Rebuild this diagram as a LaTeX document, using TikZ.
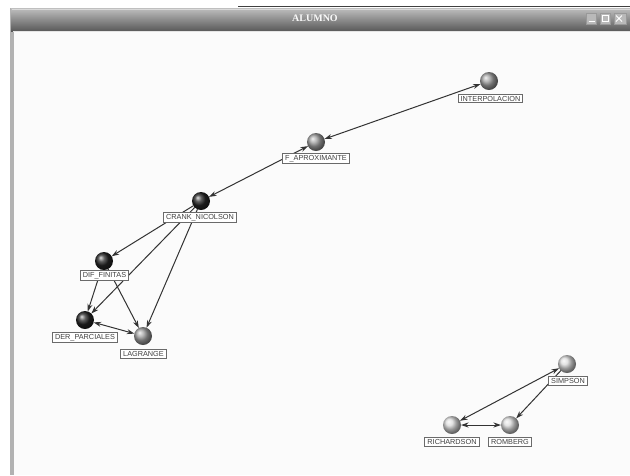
\documentclass[tikz,border=0pt]{standalone}
\usepackage{fontspec}
\setmainfont{Liberation Serif}
\setsansfont{Liberation Sans}
\usetikzlibrary{arrows.meta,shadings}
\definecolor{edgec}{HTML}{333333}
\definecolor{boxc}{HTML}{6A6A6A}
\definecolor{bgc}{HTML}{FBFBFB}
\tikzset{
  ball/.style={circle,minimum size=18pt,inner sep=0pt,outer sep=0pt,shading=ball},
  darkball/.style={ball,ball color=black!85},
  midball/.style={ball,ball color=gray!75},
  lightball/.style={ball,ball color=gray!30},
  lbl/.style={draw=boxc,line width=1pt,fill=white,inner xsep=2.6pt,inner ysep=1.7pt,
     font=\sffamily\fontsize{7.3}{8}\selectfont,text=black!75},
  link/.style={draw=edgec,line width=1pt,-{Stealth[length=7.5pt,width=5pt]}},
  blink/.style={draw=edgec,line width=1pt,{Stealth[length=7.5pt,width=5pt]}-{Stealth[length=7.5pt,width=5pt]}},
}
\begin{document}
\begin{tikzpicture}[x=1pt,y=-1pt]
\useasboundingbox (0,0) rectangle (630,475);
\fill[white] (0,0) rectangle (630,475);
% window
\fill[bgc] (12,31) rectangle (630,475);
\fill[gray!60] (10,8) rectangle (13.5,475);
\shade[top color=gray!50,bottom color=gray!70!black] (11,8) rectangle (630,31);
\draw[gray!30,line width=0.8pt] (12,9) -- (630,9);
\draw[black!75,line width=1.2pt] (238,6.5) -- (630,6.5);
\draw[gray!20,line width=0.8pt] (13,31) -- (630,31);
\node[text=gray!5,font=\bfseries\fontsize{10}{12}\selectfont] (title) at (315,18.5) {ALUMNO};
\node[draw=gray!80,fill=gray!55,minimum width=10pt,minimum height=11pt,inner sep=0pt] (bmin) at (591.5,18.5) {};
\node[draw=gray!80,fill=gray!55,minimum width=10pt,minimum height=11pt,inner sep=0pt] (bmax) at (605.5,18.5) {};
\node[draw=gray!80,fill=gray!55,minimum width=12pt,minimum height=11pt,inner sep=0pt,anchor=west] (bcls) at (614,18.5) {};
\draw[white,line width=1pt] ([xshift=-3pt,yshift=-3pt]bmin.center) -- ([xshift=3pt,yshift=-3pt]bmin.center);
\draw[white,line width=0.7pt] ([xshift=-3pt,yshift=-3pt]bmax.center) rectangle ([xshift=3pt,yshift=3pt]bmax.center);
\draw[white,line width=1pt] ([xshift=2pt,yshift=-3pt]bcls.west) -- ([xshift=8pt,yshift=3pt]bcls.west)
  ([xshift=2pt,yshift=3pt]bcls.west) -- ([xshift=8pt,yshift=-3pt]bcls.west);
% spheres
\node[midball] (interp) at (489,81) {};
\node[midball] (faprox) at (316,142) {};
\node[darkball] (crank) at (201,201) {};
\node[darkball] (dif) at (104,261) {};
\node[darkball] (der) at (85,320) {};
\node[midball] (lag) at (143,336) {};
\node[lightball] (simp) at (567,364) {};
\node[lightball] (rich) at (452,425) {};
\node[lightball] (romb) at (510,425) {};
% connectors
\draw[blink] (interp) -- (faprox);
\draw[blink] (faprox) -- (crank);
\draw[link] (crank) -- (dif);
\draw[link] (crank) -- (der);
\draw[link] (crank) -- (lag);
\draw[link] (dif) -- (der);
\draw[link] (dif) -- (lag);
\draw[blink] (lag) -- (der);
\draw[blink] (simp) -- (rich);
\draw[link] (simp) -- (romb);
\draw[blink] (rich) -- (romb);
% labels
\node[lbl] (interpl) at (490.5,98.5) {INTERPOLACION};
\node[lbl] (faproxl) at (316,158.5) {F\_APROXIMANTE};
\node[lbl] (crankl) at (200,217.5) {CRANK\_NICOLSON};
\node[lbl] (difl) at (104.5,275.5) {DIF\_FINITAS};
\node[lbl] (derl) at (85,337.5) {DER\_PARCIALES};
\node[lbl] (lagl) at (143.5,354) {LAGRANGE};
\node[lbl] (simpl) at (568,381) {SIMPSON};
\node[lbl] (richl) at (452,442) {RICHARDSON};
\node[lbl] (rombl) at (510,442) {ROMBERG};
\end{tikzpicture}
\end{document}
